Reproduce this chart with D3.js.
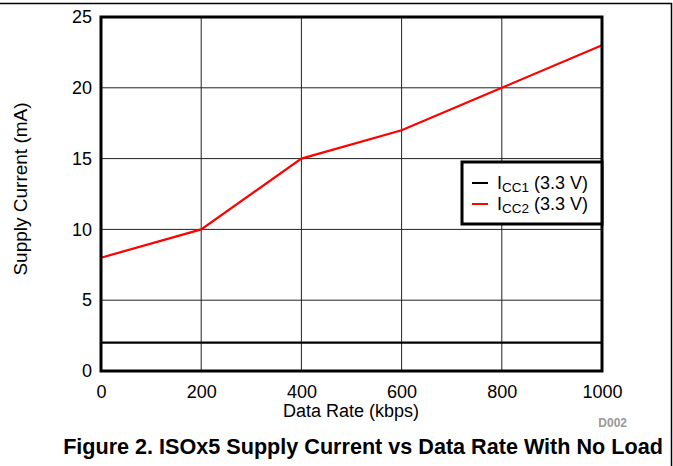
<!DOCTYPE html>
<html>
<head>
<meta charset="utf-8">
<script src="https://cdn.jsdelivr.net/npm/d3@7"></script>
<style>
  body { margin: 0; background: #fff; }
  svg { display: block; font-family: "Liberation Sans", Arial, sans-serif; }
</style>
</head>
<body>
<svg id="chart" width="673" height="466"></svg>
<script>
'use strict';

var rates = [0, 200, 400, 600, 800, 1000],
    icc1 = [2, 2, 2, 2, 2, 2],
    icc2 = [8, 10, 15, 17, 20, 23],
    xTicks = [0, 200, 400, 600, 800, 1000],
    yTicks = [0, 5, 10, 15, 20, 25];

var series = [
    { sub: 'CC1', label: ' (3.3 V)', values: icc1, color: '#000' },
    { sub: 'CC2', label: ' (3.3 V)', values: icc2, color: '#ff0000' }
];

var svg = d3.select('#chart'),
    plotL = 101, plotR = 602, plotT = 17, plotB = 371;

var x = d3.scaleLinear().domain([0, 1000]).range([plotL, plotR]),
    y = d3.scaleLinear().domain([0, 25]).range([plotB, plotT]);

// page frame
svg.append('path')
    .attr('d', 'M0,3.5H671.5V466')
    .attr('fill', 'none')
    .attr('stroke', '#000')
    .attr('stroke-width', 1.5);

// grid
svg.append('g')
    .selectAll('line')
    .data(xTicks)
    .enter().append('line')
        .attr('x1', function(d) { return x(d); })
        .attr('x2', function(d) { return x(d); })
        .attr('y1', plotT)
        .attr('y2', plotB)
        .attr('stroke', '#222')
        .attr('stroke-width', 1);

svg.append('g')
    .selectAll('line')
    .data(yTicks)
    .enter().append('line')
        .attr('y1', function(d) { return y(d); })
        .attr('y2', function(d) { return y(d); })
        .attr('x1', plotL)
        .attr('x2', plotR)
        .attr('stroke', '#222')
        .attr('stroke-width', 1);

// tick labels via d3 axes (ticks hidden)
var xAxis = svg.append('g')
    .attr('transform', 'translate(0,' + plotB + ')')
    .call(d3.axisBottom(x).tickValues(xTicks).tickFormat(d3.format('d'))
        .tickSize(0).tickPadding(14));

var yAxis = svg.append('g')
    .attr('transform', 'translate(' + plotL + ',0)')
    .call(d3.axisLeft(y).tickValues(yTicks).tickFormat(d3.format('d'))
        .tickSize(0).tickPadding(9));

[xAxis, yAxis].forEach(function(a) {
    a.select('.domain').remove();
    a.selectAll('text')
        .attr('fill', '#000')
        .style('font-size', '18px')
        .style('font-family', '"Liberation Sans", Arial, sans-serif');
});

// data lines
var line = d3.line()
    .x(function(d, i) { return x(rates[i]); })
    .y(function(d) { return y(d); });

svg.append('g')
    .selectAll('path')
    .data(series)
    .enter().append('path')
        .attr('d', function(s) { return line(s.values); })
        .attr('fill', 'none')
        .attr('stroke', function(s) { return s.color; })
        .attr('stroke-width', 2.2);

// plot border
svg.append('rect')
    .attr('x', plotL)
    .attr('y', plotT)
    .attr('width', plotR - plotL)
    .attr('height', plotB - plotT)
    .attr('fill', 'none')
    .attr('stroke', '#000')
    .attr('stroke-width', 3);

// legend
var legend = svg.append('g');
legend.append('rect')
    .attr('x', 462)
    .attr('y', 162)
    .attr('width', plotR - 462)
    .attr('height', 62)
    .attr('fill', '#fff')
    .attr('stroke', '#000')
    .attr('stroke-width', 3);

var items = legend.selectAll('g.item')
    .data(series)
    .enter().append('g')
        .attr('class', 'item')
        .attr('transform', function(d, i) { return 'translate(0,' + (183 + i * 21) + ')'; });

items.append('line')
    .attr('x1', 472)
    .attr('x2', 488)
    .attr('stroke', function(d) { return d.color; })
    .attr('stroke-width', 2);

var lt = items.append('text')
    .attr('x', 497)
    .attr('y', 6)
    .style('font-size', '18px');
lt.append('tspan').text('I');
lt.append('tspan')
    .attr('dy', 3)
    .style('font-size', '13.5px')
    .text(function(d) { return d.sub; });
lt.append('tspan')
    .attr('dy', -3)
    .text(function(d) { return d.label; });

// axis titles
svg.append('text')
    .attr('x', 351)
    .attr('y', 417)
    .attr('text-anchor', 'middle')
    .style('font-size', '18px')
    .text('Data Rate (kbps)');

svg.append('text')
    .attr('transform', 'translate(27,189) rotate(-90)')
    .attr('text-anchor', 'middle')
    .style('font-size', '19px')
    .text('Supply Current (mA)');

svg.append('text')
    .attr('x', 627)
    .attr('y', 427)
    .attr('text-anchor', 'end')
    .attr('fill', '#999')
    .style('font-size', '12px')
    .style('font-weight', 'bold')
    .text('D002');

svg.append('text')
    .attr('x', 363)
    .attr('y', 454)
    .attr('text-anchor', 'middle')
    .style('font-size', '21.6px')
    .style('font-weight', 'bold')
    .text('Figure 2. ISOx5 Supply Current vs Data Rate With No Load');
</script>
</body>
</html>
